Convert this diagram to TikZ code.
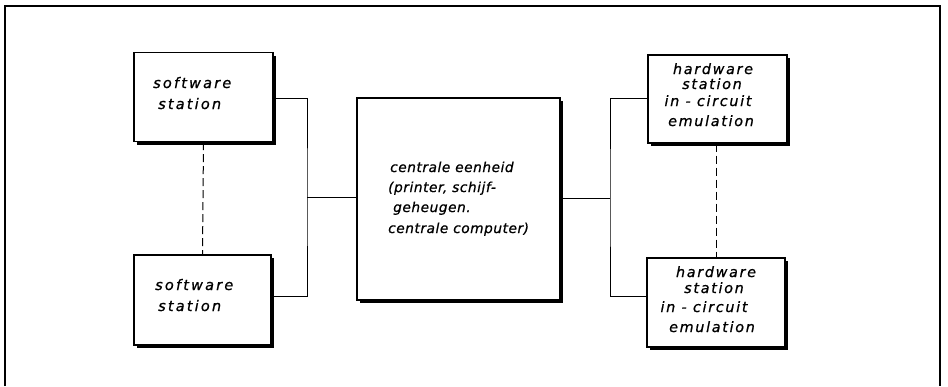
\documentclass[tikz,border=0pt]{standalone}
\usepackage{fontspec}
\setmainfont{DejaVu Sans}
\newfontfamily\lblwide[LetterSpace=15,FakeBold=0.8]{DejaVu Sans}
\newfontfamily\lblmid[LetterSpace=12,FakeBold=0.8]{DejaVu Sans}
\newfontfamily\lblnarrow[LetterSpace=4,FakeBold=0.8]{DejaVu Sans}
\begin{document}
\begin{tikzpicture}[x=1pt,y=-1pt,
  box/.style={draw, line width=1.2pt, inner sep=0pt, fill=white},
  shadowline/.style={line width=2.8pt, line cap=butt},
  wire/.style={line width=1pt},
  dashwire/.style={line width=1pt, dash pattern=on 8pt off 4pt},
  frame/.style={line width=1.6pt},
  lw/.style={font=\lblwide\itshape\fontsize{14.5}{17}\selectfont, inner sep=0pt, anchor=base west},
  lm/.style={font=\lblmid\itshape\fontsize{14.3}{17}\selectfont, inner sep=0pt, anchor=base},
  ln/.style={font=\lblnarrow\itshape\fontsize{13.7}{17}\selectfont, inner sep=0pt, anchor=base west}]
\useasboundingbox (0,0) rectangle (948,386);
\fill[white] (0,0) rectangle (948,386);
% outer frame (open at bottom)
\draw[frame] (5,386) -- (5,6) -- (940,6) -- (940,386);

% boxes
\node[box, minimum width=139pt, minimum height=89pt] (sw1) at (203.5,97) {};
\node[box, minimum width=137pt, minimum height=90pt] (sw2) at (202.5,300) {};
\node[box, minimum width=203pt, minimum height=202pt] (ce) at (458.5,199) {};
\node[box, minimum width=139pt, minimum height=88pt] (hw1) at (717.5,99) {};
\node[box, minimum width=138pt, minimum height=89pt] (hw2) at (716,302.5) {};

% shadows (thick right and bottom edges)
\foreach \n in {sw1,sw2,ce,hw1,hw2}{
  \draw[shadowline] ([shift={(1.3pt,-4pt)}]\n.north east) -- ([shift={(1.3pt,-1.3pt)}]\n.south east) -- ([shift={(4pt,-1.3pt)}]\n.south west);
}

% connectors
\coordinate (jl) at (307,197);
\coordinate (jr) at (610,198);
\draw[wire] ([yshift=-1pt]sw1.east) -| (jl) |- ([yshift=4pt]sw2.east);
\draw[wire] (jl) -- (ce.west |- jl);
\draw[wire] (ce.east |- jr) -- (jr);
\draw[wire] ([yshift=1pt]hw1.west) -| (jr) |- ([yshift=6pt]hw2.west);
\draw[dashwire] (sw1.south) -- (sw2.north);
\draw[dashwire] (hw1.south -| 716,0) -- (hw2.north -| 716,0);

% texts: software stations
\node[lw] (sw1a) at (153,88) {software};
\node[lw] (sw1b) at (158,109) {station};
\node[lw] (sw2a) at (155,290) {software};
\node[lw] (sw2b) at (158,311) {station};

% central unit
\node[ln] (cea) at (390,172) {centrale eenheid};
\node[ln] (ceb) at (388,192) {(printer, schijf-};
\node[ln] (cec) at (393,212) {geheugen.};
\node[ln] (ced) at (388,233) {centrale computer)};

% hardware stations
\node[lm] (hw1a) at (713,74) {hardware};
\node[lm] (hw1b) at (712,89) {station};
\node[lm] (hw1c) at (708,106) {in - circuit};
\node[lm] (hw1d) at (711,126) {emulation};
\node[lm] (hw2a) at (716,277) {hardware};
\node[lm] (hw2b) at (714,293) {station};
\node[lm] (hw2c) at (704,312) {in - circuit};
\node[lm] (hw2d) at (712,332) {emulation};
\end{tikzpicture}
\end{document}
